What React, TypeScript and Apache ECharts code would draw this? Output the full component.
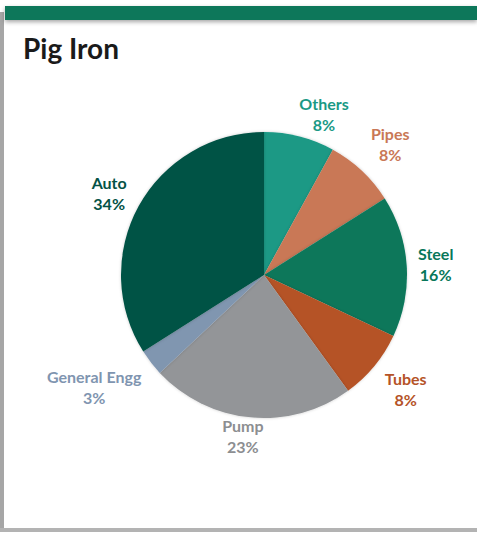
import React, { useEffect, useRef } from "react";
import * as echarts from "echarts";

const title = "Pig Iron";
const categories = ["Others", "Pipes", "Steel", "Tubes", "Pump", "General Engg", "Auto"];
const values = [8, 8, 16, 8, 23, 3, 34];
const colors = ["#1a9985", "#c97856", "#08775a", "#b55327", "#939598", "#8096b0", "#045245"];
const labelColors = ["#1a9985", "#c97856", "#08775a", "#b55327", "#8c8e91", "#7f95b0", "#045245"];

export default function App() {
  const ref = useRef<HTMLDivElement>(null);
  useEffect(() => {
    document.body.style.margin = "0";
    const labelLengths = [26, 37, 26, 37, 18, 58, 28];
    const labelShift = [
      [13, 3],
      [-2, 0],
      [-2, 0],
      [-2, -1],
      [-1, 1],
      [-6, -11],
      [0, 0],
    ];
    const chart = echarts.init(ref.current!, null, { renderer: "svg" });
    chart.setOption({
      animation: false,
      backgroundColor: "#ffffff",
      graphic: [
        { type: "rect", shape: { x: 0, y: 12, width: 4, height: 520 }, style: { fill: "#a6a6a6" }, z: 0 },
        { type: "rect", shape: { x: 0, y: 528, width: 477, height: 4 }, style: { fill: "#b3b3b3" }, z: 0 },
        { type: "rect", shape: { x: 5, y: 12, width: 472, height: 516 }, style: { fill: "#ffffff" }, z: 1 },
        {
          type: "rect",
          shape: { x: 5, y: 6, width: 472, height: 14 },
          style: { fill: "#07775a", shadowBlur: 4, shadowColor: "rgba(0,0,0,0.35)", shadowOffsetY: 2 },
          z: 2,
        },
        {
          type: "text",
          x: 23,
          y: 34,
          style: { text: title, fill: "#1a1a1a", font: "bold 28px Lato", textVerticalAlign: "top" },
          z: 3,
        },
      ],
      series: [
        {
          type: "pie",
          center: [264, 275],
          radius: 143,
          startAngle: 90,
          clockwise: true,
          avoidLabelOverlap: false,
          z: 5,
          itemStyle: { shadowBlur: 3, shadowColor: "rgba(0,0,0,0.2)" },
          label: {
            show: true,
            position: "outside",
            formatter: (p: any) => `${p.name}\n${p.value}%`,
            fontFamily: "Lato",
            fontWeight: "bold",
            fontSize: 16,
            lineHeight: 21,
          },
          labelLine: { show: false, length: 25, length2: 0 },
          labelLayout: (p: any) => ({
            align: "center",
            dx: labelShift[p.dataIndex][0],
            dy: labelShift[p.dataIndex][1],
          }),
          emphasis: { disabled: true },
          data: categories.map((name, i) => ({
            name,
            value: values[i],
            itemStyle: { color: colors[i] },
            label: { color: labelColors[i] },
            labelLine: { length: labelLengths[i], length2: 0 },
          })),
        },
      ],
    });
    return () => chart.dispose();
  }, []);
  return <div ref={ref} style={{ position: "absolute", left: 0, top: 0, width: 477, height: 533 }} />;
}
